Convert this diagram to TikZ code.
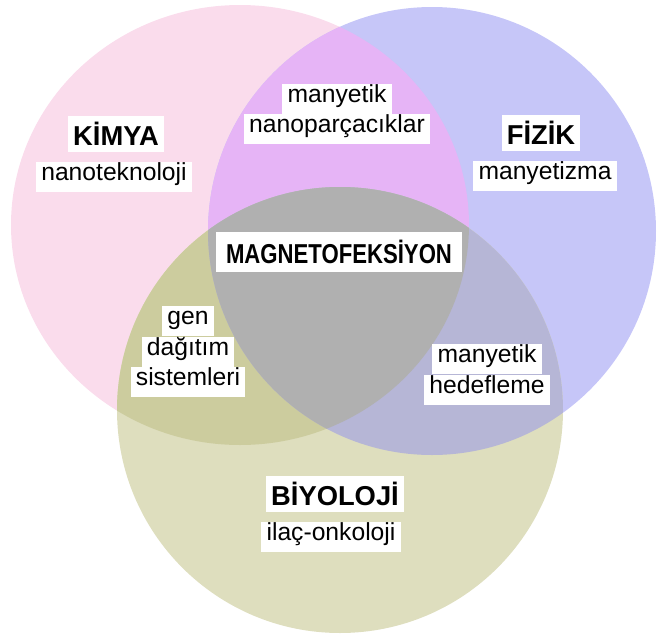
\documentclass[tikz,border=0pt]{standalone}
\usepackage{fontspec}
\setmainfont{Liberation Sans}
\usepackage{graphicx}
\usetikzlibrary{positioning}
\definecolor{kimyapink}{HTML}{FADCEC}
\definecolor{fizikblue}{HTML}{C6C6F8}
\definecolor{biyobeige}{HTML}{DEDEBE}
\definecolor{pinkblue}{HTML}{E6B4F6}
\definecolor{pinkbeige}{HTML}{CCCC9E}
\definecolor{bluebeige}{HTML}{B6B6D6}
\definecolor{allgray}{HTML}{B0B0B0}
\newcommand{\kimyaset}{(240,225) ellipse [x radius=171.75pt, y radius=165pt]}
\newcommand{\fizikset}{(432,231) circle [radius=168pt]}
\newcommand{\biyoset}{(340,410) circle [radius=167.25pt]}

\begin{document}
\begin{tikzpicture}[x=0.75pt,y=-0.75pt,
  headbox/.style={fill=white,inner xsep=4pt,inner ysep=0pt,minimum height=27pt,
    font=\fontsize{20.5}{24}\selectfont\bfseries},
  tagbox/.style={fill=white,inner xsep=4pt,inner ysep=0pt,minimum height=22.5pt,
    text height=0.75em,text depth=0.22em,font=\fontsize{18.5}{22}\selectfont}]
  \useasboundingbox (0,0) rectangle (658,640);
  % the three sets
  \fill[kimyapink] \kimyaset;
  \fill[fizikblue] \fizikset;
  \fill[biyobeige] \biyoset;
  \begin{scope}
    \clip \kimyaset;
    \fill[pinkblue] \fizikset;
    \fill[pinkbeige] \biyoset;
  \end{scope}
  \begin{scope}
    \clip \fizikset;
    \fill[bluebeige] \biyoset;
  \end{scope}
  \begin{scope}
    \clip \kimyaset;
    \clip \fizikset;
    \fill[allgray] \biyoset;
  \end{scope}
  % labels
  \node[headbox] (kimya) at (116,134) {KİMYA};
  \node[tagbox] (nanotek) at (114,177) {nanoteknoloji};
  \node[headbox] (fizik) at (541,133) {FİZİK};
  \node[tagbox] (manyetizma) at (545,176) {manyetizma};
  \node[headbox] (biyoloji) at (335,494) {BİYOLOJİ};
  \node[tagbox] (onkoloji) at (331,537) {ilaç-onkoloji};
  \node[tagbox] (mnp1) at (337,98.5) {manyetik};
  \node[tagbox,below=0pt of mnp1] (mnp2) {nanoparçacıklar};
  \node[tagbox] (gen1) at (188,321) {gen};
  \node[tagbox,below=0pt of gen1] (gen2) {dağıtım};
  \node[tagbox,below=0pt of gen2] (gen3) {sistemleri};
  \node[tagbox] (hedef1) at (487,359) {manyetik};
  \node[tagbox,below=0pt of hedef1] (hedef2) {hedefleme};
  \node[fill=white,minimum width=184pt,minimum height=30pt,inner sep=0pt,
    font=\fontsize{20.5}{24}\selectfont\bfseries] (magneto) at (339,252)
    {\scalebox{0.81}[1]{MAGNETOFEKSİYON}};
\end{tikzpicture}
\end{document}
